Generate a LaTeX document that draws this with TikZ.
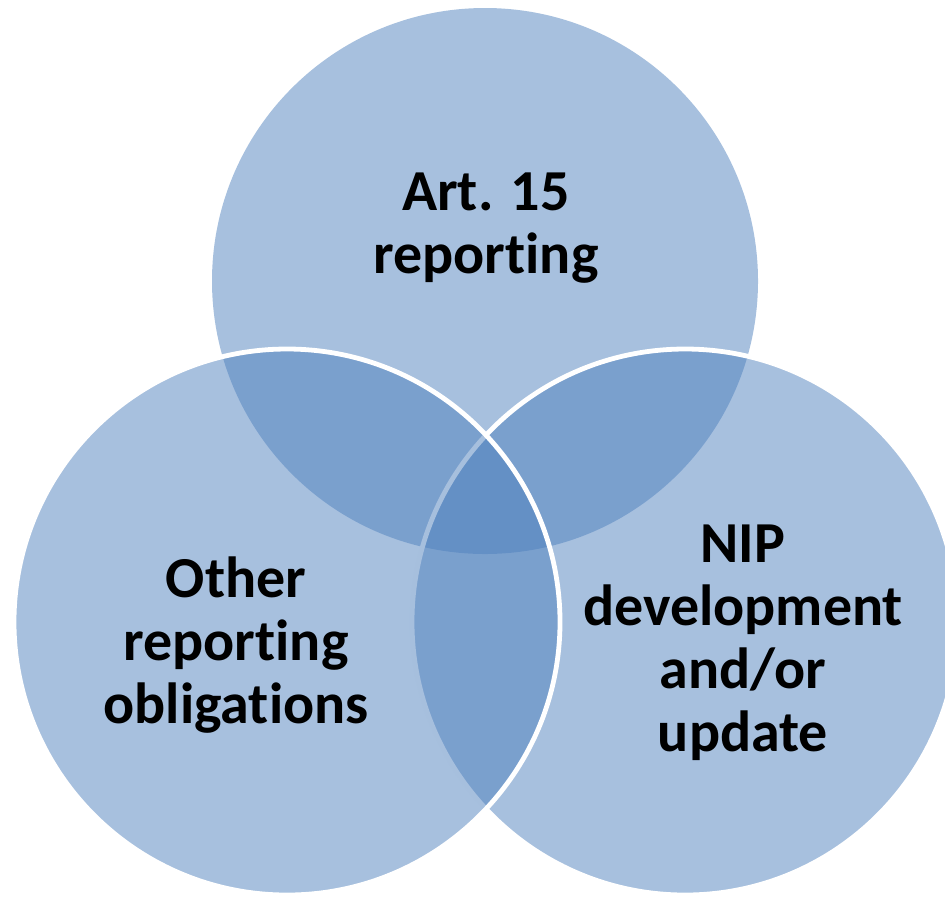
\documentclass[tikz,border=0pt]{standalone}
\usepackage{fontspec}
\setmainfont{Carlito}[Ligatures=NoCommon]
\definecolor{setblue}{HTML}{4F81BD}

\begin{document}
\begin{tikzpicture}[x=0.5pt, y=-0.5pt]
        % Define styles
        \tikzset{
            setcircle/.style={circle, minimum size=273pt, inner sep=0pt, fill=setblue, fill opacity=0.5},
            rim/.style={draw=white, line width=2.4pt},
            venntext/.style={align=center, text=black, font=\fontsize{29pt}{31.5pt}\selectfont\bfseries}
        }
        \useasboundingbox (0,0) rectangle (945,896);

        % Place the three sets (top, right, left)
        \node[setcircle] (art) at (485,281) {};
        \node[setcircle, rim] (nip) at (685,622) {};
        \node[setcircle, rim] (other) at (287,622) {};

        % Labels
        \node[venntext] (artlabel) at (486,228) {Art. 15\\reporting};
        \node[venntext] (niplabel) at (743,643) {NIP\\development\\and/or\\update};
        \node[venntext] (otherlabel) at (236,645) {Other\\reporting\\obligations};
\end{tikzpicture}
\end{document}
